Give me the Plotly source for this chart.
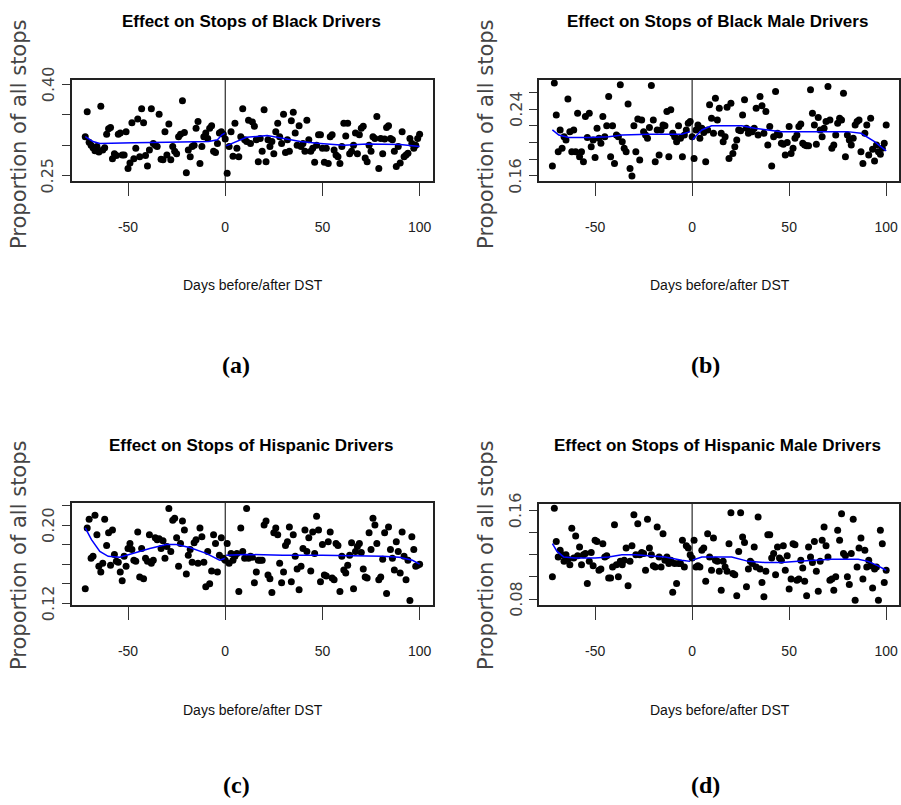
import plotly.graph_objects as go

# ---------------- data ----------------
days = list(range(-72, 101))

black = [
    0.314, 0.355, 0.305, 0.300, 0.296, 0.291, 0.298, 0.289, 0.364, 0.292,
    0.296, 0.318, 0.327, 0.329, 0.278, 0.286, 0.283, 0.318, 0.320, 0.284,
    0.284, 0.322, 0.262, 0.271, 0.337, 0.278, 0.295, 0.343, 0.281, 0.360,
    0.337, 0.283, 0.266, 0.292, 0.360, 0.303, 0.300, 0.298, 0.351, 0.277,
    0.276, 0.322, 0.284, 0.335, 0.276, 0.298, 0.290, 0.286, 0.314, 0.318,
    0.373, 0.321, 0.255, 0.292, 0.281, 0.298, 0.300, 0.328, 0.339, 0.270,
    0.298, 0.314, 0.320, 0.311, 0.328, 0.332, 0.290, 0.288, 0.303, 0.320,
    0.322, 0.318, 0.310,
    0.254, 0.298, 0.322, 0.282, 0.336, 0.295, 0.281, 0.314, 0.360, 0.309,
    0.306, 0.341, 0.303, 0.338, 0.331, 0.309, 0.273, 0.311, 0.290, 0.358,
    0.273, 0.309, 0.298, 0.306, 0.286, 0.322, 0.336, 0.314, 0.303, 0.351,
    0.288, 0.309, 0.290, 0.340, 0.354, 0.320, 0.300, 0.332, 0.298, 0.303,
    0.290, 0.341, 0.309, 0.290, 0.295, 0.272, 0.300, 0.317, 0.317, 0.295,
    0.272, 0.295, 0.270, 0.314, 0.317, 0.292, 0.284, 0.281, 0.270, 0.298,
    0.336, 0.315, 0.336, 0.286, 0.290, 0.300, 0.320, 0.286, 0.317, 0.328,
    0.331, 0.279, 0.273, 0.300, 0.290, 0.314, 0.311, 0.347, 0.262, 0.311,
    0.286, 0.310, 0.329, 0.332, 0.311, 0.309, 0.290, 0.265, 0.298, 0.271,
    0.322, 0.281, 0.284, 0.287, 0.311, 0.303, 0.295, 0.300, 0.311, 0.318,
]

black_male = [
    0.172, 0.271, 0.233, 0.189, 0.215, 0.193, 0.207, 0.203, 0.252, 0.213,
    0.189, 0.215, 0.189, 0.235, 0.183, 0.189, 0.177, 0.231, 0.206, 0.235,
    0.195, 0.203, 0.182, 0.217, 0.205, 0.199, 0.231, 0.207, 0.220, 0.255,
    0.183, 0.220, 0.175, 0.209, 0.207, 0.269, 0.201, 0.193, 0.189, 0.246,
    0.169, 0.160, 0.220, 0.189, 0.228, 0.179, 0.227, 0.213, 0.209, 0.205,
    0.218, 0.268, 0.227, 0.177, 0.215, 0.185, 0.215, 0.221, 0.220, 0.237,
    0.183, 0.239, 0.211, 0.207, 0.201, 0.220, 0.205, 0.183, 0.209, 0.215,
    0.223, 0.225, 0.207,
    0.181, 0.215, 0.221, 0.205, 0.217, 0.212, 0.177, 0.215, 0.245, 0.229,
    0.211, 0.253, 0.227, 0.241, 0.211, 0.201, 0.207, 0.242, 0.181, 0.247,
    0.187, 0.195, 0.203, 0.215, 0.214, 0.233, 0.251, 0.217, 0.211, 0.213,
    0.213, 0.217, 0.241, 0.209, 0.255, 0.244, 0.211, 0.237, 0.197, 0.219,
    0.172, 0.207, 0.261, 0.211, 0.209, 0.199, 0.198, 0.185, 0.200, 0.219,
    0.187, 0.193, 0.205, 0.209, 0.219, 0.222, 0.199, 0.197, 0.196, 0.196,
    0.263, 0.235, 0.221, 0.198, 0.230, 0.215, 0.207, 0.217, 0.225, 0.267,
    0.227, 0.193, 0.197, 0.209, 0.223, 0.229, 0.227, 0.259, 0.183, 0.209,
    0.203, 0.197, 0.205, 0.221, 0.225, 0.227, 0.189, 0.175, 0.211, 0.221,
    0.185, 0.229, 0.192, 0.178, 0.197, 0.189, 0.186, 0.193, 0.199, 0.221,
]

hispanic = [
    0.135, 0.197, 0.206, 0.166, 0.168, 0.210, 0.190, 0.158, 0.152, 0.161,
    0.206, 0.179, 0.192, 0.159, 0.195, 0.170, 0.163, 0.162, 0.152, 0.143,
    0.168, 0.158, 0.176, 0.181, 0.175, 0.164, 0.163, 0.193, 0.147, 0.176,
    0.145, 0.166, 0.163, 0.190, 0.161, 0.164, 0.187, 0.185, 0.186, 0.176,
    0.184, 0.166, 0.178, 0.217, 0.173, 0.205, 0.207, 0.187, 0.158, 0.181,
    0.204, 0.195, 0.150, 0.169, 0.175, 0.162, 0.182, 0.185, 0.161, 0.197,
    0.188, 0.162, 0.137, 0.173, 0.140, 0.153, 0.190, 0.181, 0.152, 0.169,
    0.187, 0.166, 0.164,
    0.181, 0.161, 0.171, 0.164, 0.168, 0.171, 0.132, 0.197, 0.173, 0.166,
    0.217, 0.166, 0.168, 0.167, 0.141, 0.152, 0.164, 0.164, 0.164, 0.200,
    0.204, 0.149, 0.145, 0.131, 0.192, 0.197, 0.190, 0.161, 0.141, 0.152,
    0.179, 0.183, 0.198, 0.142, 0.190, 0.168, 0.155, 0.134, 0.158, 0.176,
    0.195, 0.173, 0.187, 0.153, 0.193, 0.171, 0.209, 0.195, 0.142, 0.180,
    0.149, 0.148, 0.183, 0.193, 0.146, 0.144, 0.181, 0.179, 0.132, 0.168,
    0.154, 0.151, 0.159, 0.169, 0.182, 0.135, 0.173, 0.178, 0.181, 0.172,
    0.155, 0.147, 0.146, 0.192, 0.175, 0.207, 0.200, 0.181, 0.144, 0.147,
    0.165, 0.192, 0.130, 0.198, 0.175, 0.166, 0.154, 0.183, 0.173, 0.151,
    0.193, 0.168, 0.144, 0.164, 0.123, 0.188, 0.175, 0.158, 0.159, 0.160,
]

hispanic_male = [
    0.100, 0.162, 0.132, 0.118, 0.124, 0.120, 0.114, 0.120, 0.116, 0.111,
    0.144, 0.117, 0.137, 0.119, 0.127, 0.111, 0.120, 0.121, 0.094, 0.114,
    0.122, 0.110, 0.133, 0.132, 0.106, 0.107, 0.130, 0.118, 0.119, 0.099,
    0.099, 0.109, 0.147, 0.111, 0.100, 0.114, 0.111, 0.115, 0.126, 0.092,
    0.114, 0.128, 0.156, 0.120, 0.148, 0.120, 0.122, 0.121, 0.106, 0.152,
    0.126, 0.120, 0.110, 0.109, 0.145, 0.118, 0.109, 0.139, 0.115, 0.118,
    0.112, 0.115, 0.086, 0.112, 0.094, 0.112, 0.112, 0.133, 0.109, 0.128,
    0.126, 0.120, 0.117,
    0.133, 0.109, 0.110, 0.109, 0.124, 0.126, 0.096, 0.139, 0.118, 0.106,
    0.135, 0.115, 0.114, 0.105, 0.088, 0.114, 0.109, 0.105, 0.130, 0.158,
    0.103, 0.102, 0.083, 0.123, 0.158, 0.136, 0.131, 0.091, 0.107, 0.114,
    0.112, 0.127, 0.109, 0.154, 0.107, 0.095, 0.082, 0.105, 0.138, 0.138,
    0.117, 0.121, 0.102, 0.127, 0.117, 0.115, 0.128, 0.106, 0.119, 0.089,
    0.098, 0.130, 0.129, 0.097, 0.098, 0.115, 0.108, 0.096, 0.083, 0.127,
    0.118, 0.113, 0.132, 0.105, 0.087, 0.114, 0.133, 0.145, 0.128, 0.118,
    0.097, 0.098, 0.088, 0.100, 0.142, 0.133, 0.157, 0.121, 0.119, 0.100,
    0.093, 0.121, 0.152, 0.079, 0.109, 0.126, 0.135, 0.098, 0.124, 0.109,
    0.115, 0.110, 0.090, 0.107, 0.109, 0.079, 0.142, 0.130, 0.095, 0.106,
]

# smoothed fits (separate before / after DST, None = break)
fit_x_black = [-72, -68, -64.5, -60, -47, -30, -8.5, -4, -1.7, 0, None,
               0.5, 5, 11, 21.6, 30, 38.6, 48.9, 61, 73, 90, 100]
fit_y_black = [0.314, 0.306, 0.303, 0.303, 0.304, 0.305, 0.306, 0.309, 0.317, 0.320, None,
               0.299, 0.305, 0.313, 0.316, 0.311, 0.306, 0.303, 0.300, 0.302, 0.301, 0.298]

fit_x_black_male = [-72, -68.7, -63.6, -53, -43, -36, -22.5, -5.3, -1, None,
                    0, 5, 10, 18.6, 25.5, 32.3, 39, 46, 63, 80, 87, 94, 100]
fit_y_black_male = [0.215, 0.209, 0.206, 0.206, 0.207, 0.209, 0.210, 0.210, 0.213, None,
                    0.203, 0.215, 0.220, 0.220, 0.220, 0.217, 0.215, 0.213, 0.213, 0.213, 0.211, 0.201, 0.190]

fit_x_hispanic = [-72, -68.8, -64.5, -60.2, -54.2, -47.4, -38.8, -30.3, -25.2, -18.3, -9.8, -2.9, 0, None,
                  0.5, 10.7, 29.6, 50, 80.9, 89.5, 96.3, 100]
fit_y_hispanic = [0.197, 0.185, 0.173, 0.168, 0.167, 0.171, 0.176, 0.180, 0.180, 0.177, 0.171, 0.164, 0.166, None,
                  0.169, 0.170, 0.169, 0.169, 0.168, 0.167, 0.164, 0.160]

fit_x_hispanic_male = [-72, -69.6, -66.2, -60.2, -50, -43, -36.2, -29.3, -22.5, -13.9, -5.3, -1, None,
                       0, 5, 20.4, 29, 37.5, 46, 54.7, 63.3, 71.8, 85.6, 90.7, 95.8, 100]
fit_y_hispanic_male = [0.130, 0.123, 0.118, 0.117, 0.117, 0.118, 0.120, 0.120, 0.119, 0.118, 0.115, 0.114, None,
                       0.115, 0.118, 0.118, 0.114, 0.113, 0.113, 0.114, 0.115, 0.116, 0.116, 0.114, 0.110, 0.106]

titles = ["Effect on Stops of Black Drivers", "Effect on Stops of Black Male Drivers",
          "Effect on Stops of Hispanic Drivers", "Effect on Stops of Hispanic Male Drivers"]
captions = ["(a)", "(b)", "(c)", "(d)"]
x_label = "Days before/after DST"
y_label = "Proportion of all stops"
x_ticks = [-50, 0, 50, 100]
x_ticktext = ["-50", "0", "50", "100"]
y_ticks = [[0.25, 0.30, 0.35, 0.40],
           [0.16, 0.18, 0.20, 0.22, 0.24, 0.26],
           [0.12, 0.14, 0.16, 0.18, 0.20, 0.22],
           [0.08, 0.10, 0.12, 0.14, 0.16]]
y_labelled = [[0.25, 0.40], [0.16, 0.24], [0.12, 0.20], [0.08, 0.16]]

series = [black, black_male, hispanic, hispanic_male]
fits = [(fit_x_black, fit_y_black), (fit_x_black_male, fit_y_black_male),
        (fit_x_hispanic, fit_y_hispanic), (fit_x_hispanic_male, fit_y_hispanic_male)]
for s in series:
    assert len(s) == len(days)

# ---------------- layout geometry (pixels) ----------------
W, H = 901, 805
boxes = [(72, 434, 80, 181), (540, 901, 80, 181), (72, 434, 503, 605), (540, 901, 504, 605)]
x_ranges = [[-78.9, 106.9], [-79.0, 106.6], [-78.9, 106.9], [-79.0, 106.6]]
y_ranges = [[0.2413, 0.407], [0.154, 0.2747], [0.1183, 0.2225], [0.0746, 0.1658]]
title_pos = [(252, 22), (719, 22), (252, 446), (719, 446)]
xlab_pos = [(254, 285), (722, 285), (254, 710), (722, 710)]
ylab_pos = [(19, 134), (487, 134), (19, 555), (487, 555)]
ytick_x = [48, 517, 48, 517]
cap_pos = [(237, 365), (707, 365), (237, 785), (707, 785)]

SANS = "Liberation Sans, Arial, sans-serif"

fig = go.Figure()
layout = dict(width=W, height=H, margin=dict(l=0, r=0, t=0, b=0),
              paper_bgcolor="white", plot_bgcolor="white", showlegend=False)
annotations = []
shapes = []

for i in range(4):
    n = "" if i == 0 else str(i + 1)
    xa, ya = "x" + n, "y" + n
    fig.add_trace(go.Scatter(x=days, y=series[i], mode="markers", xaxis=xa, yaxis=ya,
                             marker=dict(color="black", size=7), hoverinfo="x+y"))
    fig.add_trace(go.Scatter(x=fits[i][0], y=fits[i][1], mode="lines", xaxis=xa, yaxis=ya,
                             line=dict(color="#0000ff", width=1.5), connectgaps=False))
    l, r, t, b = boxes[i]
    layout["xaxis" + n] = dict(domain=[l / W, min(r / W, 1.0)], range=x_ranges[i], anchor=ya,
                               showgrid=False, zeroline=False, showline=True, mirror=True,
                               linecolor="#222", linewidth=1.5, ticks="outside", ticklen=13,
                               tickwidth=1.2, tickcolor="#333", tickvals=x_ticks,
                               ticktext=x_ticktext, ticklabelstandoff=19,
                               tickfont=dict(family=SANS, size=14, color="#222"))
    layout["yaxis" + n] = dict(domain=[1 - b / H, 1 - t / H], range=y_ranges[i], anchor=xa,
                               showgrid=False, zeroline=False, showline=True, mirror=True,
                               linecolor="#222", linewidth=1.5, ticks="outside", ticklen=8,
                               tickwidth=1.2, tickcolor="#333", tickvals=y_ticks[i],
                               showticklabels=False)
    shapes.append(dict(type="line", xref=xa, yref=ya + " domain", x0=0, x1=0, y0=0, y1=1,
                       line=dict(color="black", width=1)))
    for v in y_labelled[i]:
        annotations.append(dict(text="%.2f" % v, xref="paper", yref=ya, textangle=-90,
                                x=ytick_x[i] / W, y=v, xanchor="center", yanchor="middle",
                                showarrow=False,
                                font=dict(family="DejaVu Sans, sans-serif", size=16, color="#444")))
    annotations.append(dict(text="<b>" + titles[i] + "</b>", xref="paper", yref="paper",
                            x=title_pos[i][0] / W, y=1 - title_pos[i][1] / H,
                            xanchor="center", yanchor="middle", showarrow=False,
                            font=dict(family=SANS, size=17, color="black")))
    annotations.append(dict(text=x_label, xref="paper", yref="paper",
                            x=xlab_pos[i][0] / W, y=1 - xlab_pos[i][1] / H,
                            xanchor="center", yanchor="middle", showarrow=False,
                            font=dict(family=SANS, size=14, color="#111")))
    annotations.append(dict(text=y_label, xref="paper", yref="paper", textangle=-90,
                            x=ylab_pos[i][0] / W, y=1 - ylab_pos[i][1] / H,
                            xanchor="center", yanchor="middle", showarrow=False,
                            font=dict(family="DejaVu Sans, sans-serif", size=21, color="#444")))
    annotations.append(dict(text="<b>" + captions[i] + "</b>", xref="paper", yref="paper",
                            x=cap_pos[i][0] / W, y=1 - cap_pos[i][1] / H,
                            xanchor="center", yanchor="middle", showarrow=False,
                            font=dict(family="Liberation Serif, DejaVu Serif, serif", size=24,
                                      color="black")))

layout["annotations"] = annotations
layout["shapes"] = shapes
fig.update_layout(**layout)
fig.write_html("out.html", config={"displayModeBar": False},
               post_script="document.body.style.margin='0px';")
